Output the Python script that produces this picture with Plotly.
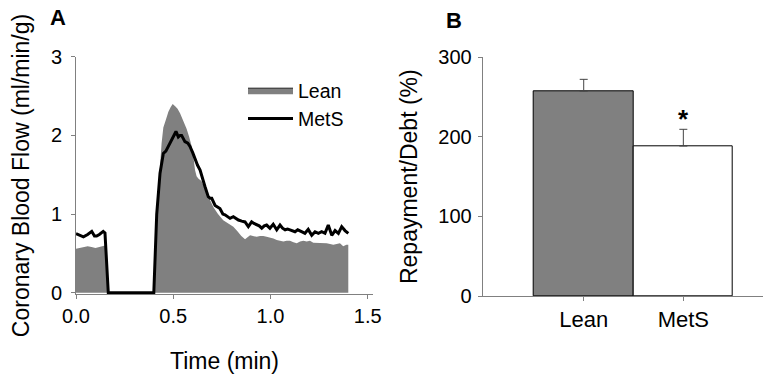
import plotly.graph_objects as go

# Panel A: coronary blood flow (ml/min/g) vs time (min)
t_lean = [0.0, 0.02, 0.04, 0.06, 0.08, 0.10, 0.12, 0.14, 0.149, 0.166, 0.40, 0.415, 0.425,
          0.432, 0.44, 0.449, 0.462, 0.475, 0.487, 0.497, 0.51, 0.522, 0.535, 0.55, 0.569,
          0.582, 0.595, 0.605, 0.612, 0.62, 0.63, 0.645, 0.663, 0.685, 0.706, 0.73, 0.757,
          0.78, 0.809, 0.83, 0.85, 0.869, 0.882, 0.895, 0.91, 0.929, 0.946, 0.963, 0.98,
          0.997, 1.015, 1.032, 1.05, 1.066, 1.083, 1.10, 1.118, 1.135, 1.152, 1.169, 1.186,
          1.203, 1.22, 1.255, 1.289, 1.306, 1.323, 1.34, 1.357, 1.374, 1.39, 1.40]
lean = [0.56, 0.57, 0.58, 0.59, 0.58, 0.57, 0.58, 0.60, 0.60, 0.0, 0.0, 0.9, 1.4,
        1.6, 1.9, 2.1, 2.2, 2.30, 2.36, 2.40, 2.37, 2.34, 2.28, 2.2, 2.08,
        1.98, 1.86, 1.7, 1.56, 1.48, 1.45, 1.42, 1.33, 1.2, 1.09, 1.0, 0.92,
        0.88, 0.84, 0.78, 0.72, 0.68, 0.70, 0.73, 0.72, 0.71, 0.72, 0.72, 0.71,
        0.70, 0.69, 0.67, 0.66, 0.65, 0.66, 0.66, 0.64, 0.63, 0.65, 0.66, 0.65,
        0.66, 0.635, 0.635, 0.63, 0.62, 0.61, 0.62, 0.63, 0.59, 0.61, 0.61]

t_mets = [0.0, 0.02, 0.038, 0.06, 0.081, 0.095, 0.106, 0.12, 0.14, 0.149, 0.166, 0.40,
          0.415, 0.432, 0.449, 0.462, 0.475, 0.491, 0.505, 0.514, 0.526, 0.535, 0.543,
          0.56, 0.575, 0.586, 0.60, 0.612, 0.625, 0.638, 0.65, 0.663, 0.68, 0.69, 0.698,
          0.715, 0.74, 0.755, 0.766, 0.78, 0.792, 0.809, 0.822, 0.835, 0.852, 0.869,
          0.886, 0.903, 0.915, 0.929, 0.942, 0.955, 0.968, 0.98, 0.997, 1.014, 1.032,
          1.049, 1.062, 1.075, 1.088, 1.10, 1.113, 1.126, 1.14, 1.152, 1.165, 1.177,
          1.194, 1.212, 1.229, 1.246, 1.263, 1.28, 1.297, 1.315, 1.332, 1.349, 1.366,
          1.383, 1.40]
mets = [0.75, 0.73, 0.71, 0.74, 0.78, 0.72, 0.72, 0.74, 0.78, 0.76, 0.0, 0.0,
        1.0, 1.52, 1.77, 1.80, 1.86, 1.94, 2.0, 2.05, 1.98, 2.0, 2.0,
        1.92, 1.9, 1.86, 1.78, 1.69, 1.62, 1.56, 1.45, 1.35, 1.22, 1.2, 1.2,
        1.11, 1.07, 1.0, 0.99, 0.96, 0.945, 0.966, 0.94, 0.924, 0.91, 0.90,
        0.84, 0.90, 0.88, 0.86, 0.85, 0.82, 0.85, 0.86, 0.82, 0.87, 0.80,
        0.86, 0.82, 0.80, 0.81, 0.80, 0.79, 0.775, 0.80, 0.79, 0.77, 0.755,
        0.805, 0.73, 0.775, 0.755, 0.775, 0.755, 0.86, 0.73, 0.79, 0.755, 0.84,
        0.79, 0.755]

# Panel B: repayment / debt (%)
groups = ["Lean", "MetS"]
ratio = [257.6, 188.5]
ratio_err = [14.7, 21.0]

x_ticks_a = [0, 0.5, 1.0, 1.5]
x_ticktext_a = ["0.0", "0.5", "1.0", "1.5"]
y_ticks_a = [0, 1, 2, 3]
y_ticks_b = [0, 100, 200, 300]

GREY = "#808080"
AX = "#808080"
FONT = "Liberation Sans, Arial, sans-serif"

# the page body has an 8px margin; the figure is sized to fill the rest of the window
W, H, OFF = 763, 370, 8


def fx(px):
    return (px - OFF) / W


def fy(py):
    return 1 - (py - OFF) / H


fig = go.Figure()
fig.add_trace(go.Scatter(x=t_lean, y=lean, mode="lines", fill="tozeroy",
                         fillcolor=GREY, line=dict(width=0, color=GREY),
                         showlegend=False, hoverinfo="skip"))
# legend entry for the Lean area
fig.add_trace(go.Scatter(x=[None], y=[None], mode="lines", fill="toself",
                         fillcolor=GREY, line=dict(width=1, color="#222222"),
                         name="Lean"))
fig.add_trace(go.Scatter(x=t_mets, y=mets, mode="lines",
                         line=dict(color="black", width=3), name="MetS"))

fig.add_trace(go.Bar(x=groups, y=ratio, xaxis="x2", yaxis="y2", showlegend=False,
                     width=1,
                     marker=dict(color=[GREY, "white"], line=dict(color="black", width=1)),
                     error_y=dict(type="data", symmetric=False, array=ratio_err,
                                  arrayminus=[0, 0], color="#444444", thickness=1, width=4)))

axis_common = dict(showline=True, linecolor=AX, linewidth=1, ticks="outside", ticklen=4,
                   tickcolor=AX, showgrid=False, zeroline=False, automargin=False,
                   tickfont=dict(size=20, color="black"))

fig.update_layout(
    width=W, height=H,
    margin=dict(l=0, r=0, t=0, b=0, autoexpand=False),
    plot_bgcolor="white", paper_bgcolor="white",
    font=dict(family=FONT, size=20, color="black"),
    bargap=0,
    xaxis=dict(domain=[fx(76), fx(373)], range=[0, 1.527], tickvals=x_ticks_a,
               ticktext=x_ticktext_a, anchor="y",
               title=dict(text="Time (min)", font=dict(size=23), standoff=26),
               **axis_common),
    yaxis=dict(domain=[fy(294.3), fy(56.7)], range=[-0.02, 3], tickvals=y_ticks_a,
               anchor="x", ticklabelstandoff=5,
               title=dict(text="Coronary Blood Flow (ml/min/g)", font=dict(size=23), standoff=14),
               **axis_common),
    xaxis2=dict(domain=[fx(482.7), 1.0], range=[-1.014, 1.88], anchor="y2",
                **{**axis_common, "tickfont": dict(size=22, color="black")}),
    yaxis2=dict(domain=[fy(296), fy(57.3)], range=[0, 300], tickvals=y_ticks_b,
                anchor="x2", ticklabelstandoff=2,
                title=dict(text="Repayment/Debt (%)", font=dict(size=23), standoff=14),
                **axis_common),
    legend=dict(x=fx(243), y=fy(71), xanchor="left", yanchor="top",
                bgcolor="rgba(0,0,0,0)", itemwidth=45, font=dict(size=19.5),
                tracegroupgap=0),
    annotations=[
        dict(text="<b>A</b>", x=fx(58), y=fy(18), xref="paper", yref="paper",
             showarrow=False, font=dict(size=22), xanchor="center", yanchor="middle"),
        dict(text="<b>B</b>", x=fx(454), y=fy(20), xref="paper", yref="paper",
             showarrow=False, font=dict(size=22), xanchor="center", yanchor="middle"),
        dict(text="<b>*</b>", x="MetS", y=222, xref="x2", yref="y2",
             showarrow=False, font=dict(size=26), xanchor="center", yanchor="middle"),
    ],
)

fig.write_html("out.html")
